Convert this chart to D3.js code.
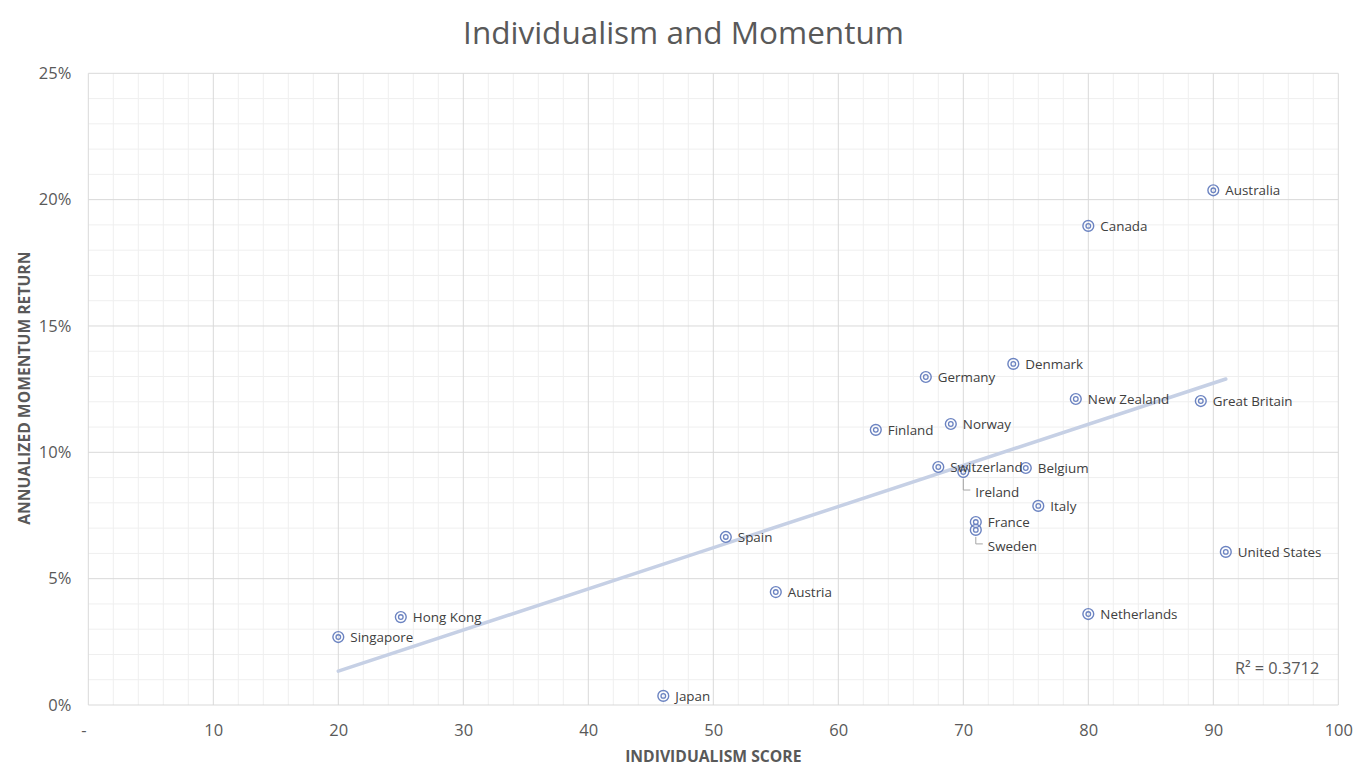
<!DOCTYPE html>
<html>
<head>
<meta charset="utf-8">
<script src="https://cdn.jsdelivr.net/npm/d3@7"></script>
<style>
  html, body { margin: 0; padding: 0; background: #fff; }
  svg { display: block; font-family: "Open Sans", "Noto Sans", sans-serif; }
</style>
</head>
<body>
<svg id="chart" width="1365" height="777"></svg>
<script>
// ---- data ----
const countries = ["Australia","Canada","Denmark","Germany","New Zealand","Great Britain","Norway","Finland","Switzerland","Belgium","Ireland","Italy","France","Sweden","United States","Spain","Austria","Netherlands","Hong Kong","Singapore","Japan"];
const individualism = [90,80,74,67,79,89,69,63,68,75,70,76,71,71,91,51,55,80,25,20,46];
const momentum = [0.2037,0.1896,0.1350,0.1298,0.1211,0.1203,0.1112,0.1089,0.0942,0.0938,0.0922,0.0788,0.0724,0.0693,0.0606,0.0665,0.0447,0.0360,0.0348,0.0269,0.0036];
const xTicks = [0,10,20,30,40,50,60,70,80,90,100];
const yTicks = [0,0.05,0.10,0.15,0.20,0.25];
const chartTitle = "Individualism and Momentum";
const xTitle = "INDIVIDUALISM SCORE";
const yTitle = "ANNUALIZED MOMENTUM RETURN";
const r2Text = "R² = 0.3712";

// labels placed with leader lines (style config)
const leaderLabels = { "Ireland": {dx: 12, dy: 20}, "Sweden": {dx: 12, dy: 16} };

const FONT = '"Open Sans", "Noto Sans", sans-serif';
const svg = d3.select("#chart");
const W = 1365, H = 777;
const m = {left: 88.3, right: 1338.3, top: 73.3, bottom: 705};

const x = d3.scaleLinear().domain([0,100]).range([m.left, m.right]);
const y = d3.scaleLinear().domain([0,0.25]).range([m.bottom, m.top]);

// minor grid
const g = svg.append("g");
const minorX = d3.range(0, 101, 2).filter(v => v % 10 !== 0);
const minorY = d3.range(0, 0.2501, 0.01).filter((v,i) => i % 5 !== 0);
g.selectAll(".mx").data(minorX).join("line")
  .attr("x1", d => x(d)).attr("x2", d => x(d)).attr("y1", m.top).attr("y2", m.bottom)
  .attr("stroke", "#efefef").attr("stroke-width", 1);
g.selectAll(".my").data(minorY).join("line")
  .attr("y1", d => y(d)).attr("y2", d => y(d)).attr("x1", m.left).attr("x2", m.right)
  .attr("stroke", "#efefef").attr("stroke-width", 1);
// major grid
g.selectAll(".Mx").data(xTicks).join("line")
  .attr("x1", d => x(d)).attr("x2", d => x(d)).attr("y1", m.top).attr("y2", m.bottom)
  .attr("stroke", "#d9d9d9").attr("stroke-width", 1);
g.selectAll(".My").data(yTicks).join("line")
  .attr("y1", d => y(d)).attr("y2", d => y(d)).attr("x1", m.left).attr("x2", m.right)
  .attr("stroke", "#d9d9d9").attr("stroke-width", 1);

// axes (labels only)
const xAxis = d3.axisBottom(x).tickValues(xTicks).tickSize(0).tickPadding(0)
  .tickFormat(d => d === 0 ? "-" : d3.format("d")(d));
const xa = svg.append("g").attr("transform", `translate(0,${m.bottom})`).call(xAxis)
  .attr("font-family", FONT).attr("font-size", 16.5);
xa.select(".domain").remove();
xa.selectAll("text").attr("y", 26).attr("dy", "0.32em").attr("fill", "#595959")
  .attr("x", d => d === 0 ? -5 : 0);

const yAxis = d3.axisLeft(y).tickValues(yTicks).tickSize(0).tickPadding(0).tickFormat(d3.format(".0%"));
const ya = svg.append("g").attr("transform", `translate(${m.left},0)`).call(yAxis)
  .attr("font-family", FONT).attr("font-size", 16.5);
ya.select(".domain").remove();
ya.selectAll("text").attr("x", -17).attr("dy", "0.32em").attr("fill", "#595959");

// trendline (least squares)
const n = individualism.length;
const mx = d3.mean(individualism), my = d3.mean(momentum);
let sxy = 0, sxx = 0;
for (let i = 0; i < n; i++) { sxy += (individualism[i]-mx)*(momentum[i]-my); sxx += (individualism[i]-mx)**2; }
const slope = sxy / sxx, icpt = my - slope * mx;
const [x0, x1] = d3.extent(individualism);
svg.append("line")
  .attr("x1", x(x0)).attr("y1", y(icpt + slope*x0))
  .attr("x2", x(x1)).attr("y2", y(icpt + slope*x1))
  .attr("stroke", "#c6d0e5").attr("stroke-width", 3.5).attr("stroke-linecap", "round");

// points
const pts = countries.map((c,i) => ({name: c, x: individualism[i], y: momentum[i]}));
const pg = svg.append("g");
pg.selectAll(".o").data(pts).join("circle")
  .attr("cx", d => x(d.x)).attr("cy", d => y(d.y)).attr("r", 5.4)
  .attr("fill", "none").attr("stroke", "#6b83c1").attr("stroke-width", 1.4);
pg.selectAll(".i").data(pts).join("circle")
  .attr("cx", d => x(d.x)).attr("cy", d => y(d.y)).attr("r", 2.3)
  .attr("fill", "none").attr("stroke", "#6b83c1").attr("stroke-width", 1.3);

// leader lines
pts.filter(d => leaderLabels[d.name]).forEach(d => {
  const o = leaderLabels[d.name];
  const cx = x(d.x), cy = y(d.y);
  svg.append("polyline")
    .attr("points", `${cx},${cy+7} ${cx},${cy+o.dy-2} ${cx+o.dx-5},${cy+o.dy-2}`)
    .attr("fill", "none").attr("stroke", "#a6a6a6").attr("stroke-width", 1);
});

// labels
svg.append("g").selectAll("text").data(pts).join("text")
  .attr("x", d => x(d.x) + (leaderLabels[d.name] ? leaderLabels[d.name].dx : 12))
  .attr("y", d => y(d.y) + (leaderLabels[d.name] ? leaderLabels[d.name].dy : 0))
  .attr("dy", "0.35em").attr("font-size", 13.4).attr("fill", "#404040")
  .text(d => d.name);

// R2
svg.append("text").attr("x", x(95.1)).attr("y", y(0.0145)).attr("dy", "0.35em")
  .attr("text-anchor", "middle").attr("font-size", 16.3).attr("fill", "#595959").text(r2Text);

// titles
svg.append("text").attr("x", W/2 + 1).attr("y", 33).attr("dy", "0.35em").attr("text-anchor", "middle")
  .attr("font-size", 31.5).attr("fill", "#595959").text(chartTitle);
svg.append("text").attr("x", (m.left+m.right)/2).attr("y", 757).attr("dy", "0.35em").attr("text-anchor", "middle")
  .attr("font-size", 15.7).attr("font-weight", "bold").attr("fill", "#595959").text(xTitle);
svg.append("text").attr("transform", `translate(24,${(m.top+m.bottom)/2 - 1}) rotate(-90)`).attr("dy", "0.35em")
  .attr("text-anchor", "middle").attr("font-size", 15.7).attr("font-weight", "bold").attr("fill", "#595959").text(yTitle);
</script>
</body>
</html>
